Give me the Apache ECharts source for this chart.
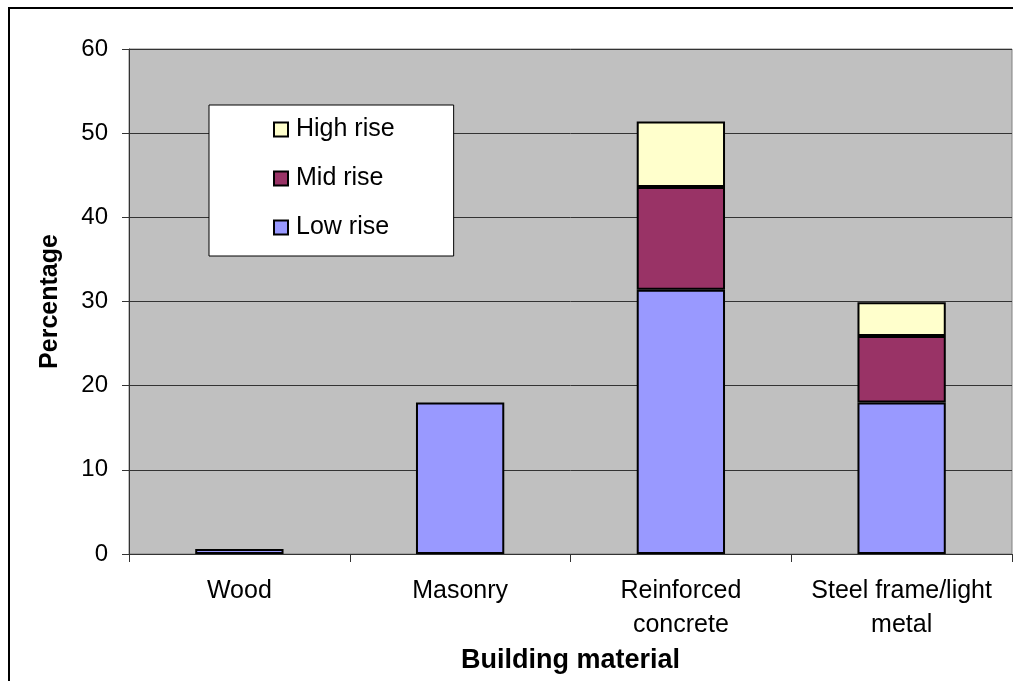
<!DOCTYPE html>
<html>
<head>
<meta charset="utf-8">
<script src="https://cdn.jsdelivr.net/npm/echarts@6/dist/echarts.min.js"></script>
<style>
  html, body { margin: 0; padding: 0; background: #fff; overflow: hidden; }
  #wrap { position: relative; width: 1013px; height: 681px; }
  #frame {
    position: absolute; left: 8px; top: 7px; width: 1100px; height: 800px;
    border: 2px solid #000; box-sizing: border-box; pointer-events: none; z-index: 2;
  }
  #chart { position: absolute; left: 0; top: 0; width: 1013px; height: 681px; }
</style>
</head>
<body>
<div id="wrap">
  <div id="chart"></div>
  <div id="frame"></div>
</div>
<script>
// data (null = no segment)
const categories = ["Wood", "Masonry", "Reinforced\nconcrete", "Steel frame/light\nmetal"];
const lowRise = [0.6, 18.0, 31.4, 18.0];
const midRise = [null, null, 12.2, 7.9];
const highRise = [null, null, 7.8, 4.0];
const yTicks = [0, 10, 20, 30, 40, 50, 60];

const font = "'Liberation Sans', Arial, sans-serif";

function barSeries(name, data, color) {
  return {
    name: name,
    type: "bar",
    stack: "total",
    data: data,
    barWidth: "40%",
    itemStyle: {
      color: color,
      borderColor: "#000",
      borderWidth: 2
    }
  };
}

const chart = echarts.init(document.getElementById("chart"));
chart.setOption({
  animation: false,
  backgroundColor: "#fff",
  textStyle: { fontFamily: font, color: "#000" },
  grid: {
    left: 129,
    top: 49,
    right: 1,
    bottom: 127,
    show: true,
    backgroundColor: "#c0c0c0",
    borderColor: "#808080",
    borderWidth: 1
  },
  legend: {
    orient: "vertical",
    left: 209,
    top: 105,
    data: ["High rise", "Mid rise", "Low rise"],
    backgroundColor: "#fff",
    borderColor: "#000",
    borderWidth: 1,
    padding: [12, 59, 16, 64],
    itemWidth: 14,
    itemHeight: 14,
    itemGap: 24,
    icon: "rect",
    textStyle: { fontFamily: font, fontSize: 25, color: "#000", padding: [0, 0, 0, 3] }
  },
  xAxis: {
    type: "category",
    data: categories,
    name: "Building material",
    nameLocation: "middle",
    nameGap: 92,
    nameTextStyle: { fontFamily: font, fontSize: 27, fontWeight: "bold", color: "#000" },
    axisLine: { lineStyle: { color: "#333", width: 1 } },
    axisTick: { show: true, alignWithLabel: false, length: 8, lineStyle: { color: "#333" } },
    axisLabel: {
      fontFamily: font,
      fontSize: 25,
      color: "#000",
      lineHeight: 34,
      margin: 20,
      interval: 0
    },
    splitLine: { show: false }
  },
  yAxis: {
    type: "value",
    min: yTicks[0],
    max: yTicks[yTicks.length - 1],
    interval: 10,
    name: "Percentage",
    nameLocation: "middle",
    nameGap: 66,
    nameTextStyle: { fontFamily: font, fontSize: 25, fontWeight: "bold", color: "#000" },
    axisLine: { show: true, lineStyle: { color: "#333", width: 1 } },
    axisTick: { show: true, length: 7, lineStyle: { color: "#333" } },
    axisLabel: { fontFamily: font, fontSize: 24, color: "#000", margin: 21 },
    splitLine: { show: true, lineStyle: { color: "#333", width: 1 } }
  },
  series: [
    barSeries("Low rise", lowRise, "#9999ff"),
    barSeries("Mid rise", midRise, "#993366"),
    barSeries("High rise", highRise, "#ffffcc")
  ]
});
</script>
</body>
</html>
